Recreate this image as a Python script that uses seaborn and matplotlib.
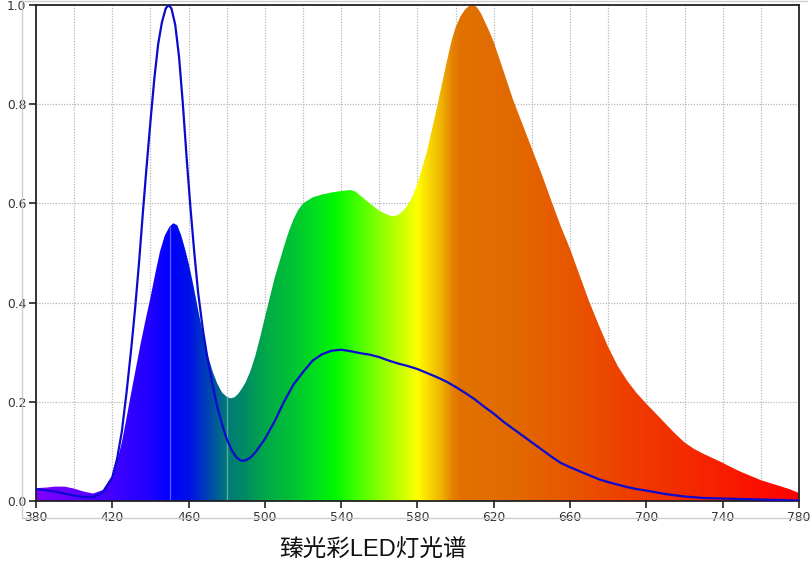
import matplotlib
matplotlib.use("Agg")

import numpy as np
import pandas as pd
import matplotlib.pyplot as plt
import seaborn as sns
from matplotlib.colors import LinearSegmentedColormap
from matplotlib.patches import Polygon
from matplotlib.lines import Line2D


# wavelength grid (nm) for the LED spectrum (filled area)
spec_wl = [380, 385, 390, 395, 400, 405, 410, 415, 420, 422.5, 425, 427.5, 430,
           432.5, 435, 437.5, 440, 442.5, 445, 447.5, 450, 452, 454, 456, 458, 460,
           462.5, 465, 467.5, 470, 472.5, 475, 477.5, 480, 482, 484, 486, 488, 490,
           492.5, 495, 497.5, 500, 505, 510, 512.5, 515, 517.5, 520, 525, 530, 535,
           540, 545, 547.5, 550, 555, 560, 565, 567.5, 570, 572.5, 575, 577.5, 580,
           585, 590, 595, 598, 600, 602.5, 605, 607, 609, 611, 613, 615, 617.5,
           620, 625, 630, 635, 640, 645, 650, 655, 660, 665, 670, 675, 680, 685,
           690, 695, 700, 705, 710, 715, 720, 725, 730, 735, 740, 745, 750, 755,
           760, 765, 770, 775, 780]
spec_val = [0.026, 0.027, 0.029, 0.029, 0.025, 0.019, 0.015, 0.022, 0.05, 0.08,
            0.118, 0.168, 0.22, 0.27, 0.32, 0.366, 0.41, 0.458, 0.503, 0.535,
            0.553, 0.56, 0.556, 0.537, 0.51, 0.48, 0.435, 0.385, 0.338, 0.295,
            0.262, 0.237, 0.219, 0.21, 0.207, 0.209, 0.216, 0.227, 0.24, 0.263,
            0.293, 0.33, 0.37, 0.448, 0.513, 0.543, 0.568, 0.587, 0.6, 0.612,
            0.618, 0.622, 0.625, 0.627, 0.624, 0.616, 0.6, 0.585, 0.576, 0.574,
            0.577, 0.585, 0.597, 0.615, 0.64, 0.705, 0.79, 0.88, 0.93, 0.955,
            0.977, 0.991, 0.998, 1.0, 0.996, 0.985, 0.969, 0.948, 0.925, 0.868,
            0.81, 0.76, 0.71, 0.66, 0.607, 0.555, 0.508, 0.455, 0.402, 0.355, 0.31,
            0.272, 0.242, 0.217, 0.196, 0.176, 0.156, 0.136, 0.118, 0.105, 0.095,
            0.086, 0.077, 0.067, 0.058, 0.05, 0.042, 0.036, 0.03, 0.024, 0.016]

# reference curve (blue line)
line_wl = [380, 385, 390, 395, 400, 405, 410, 415, 420, 422.5, 425, 427.5, 430,
           432, 434, 436, 438, 440, 442, 444, 446, 448, 449.5, 451, 453, 455, 457,
           459, 461, 463, 465, 467.5, 470, 472.5, 475, 477.5, 480, 482.5, 485,
           487.5, 490, 492.5, 495, 500, 505, 510, 515, 520, 525, 530, 535, 540,
           545, 550, 555, 560, 565, 570, 575, 580, 585, 590, 595, 600, 605, 610,
           615, 620, 625, 630, 635, 640, 645, 650, 655, 660, 665, 670, 675, 680,
           685, 690, 695, 700, 710, 720, 730, 740, 750, 760, 770, 780]
line_val = [0.024, 0.022, 0.019, 0.015, 0.011, 0.008, 0.008, 0.017, 0.048, 0.085,
            0.14, 0.22, 0.31, 0.39, 0.48, 0.58, 0.675, 0.765, 0.85, 0.92, 0.965,
            0.993, 1.0, 0.993, 0.96, 0.895, 0.8, 0.69, 0.59, 0.5, 0.42, 0.345,
            0.285, 0.235, 0.19, 0.155, 0.125, 0.103, 0.088, 0.081, 0.082, 0.088,
            0.098, 0.125, 0.16, 0.2, 0.235, 0.26, 0.283, 0.296, 0.303, 0.305,
            0.302, 0.298, 0.295, 0.29, 0.283, 0.277, 0.272, 0.266, 0.258, 0.25,
            0.241, 0.23, 0.218, 0.205, 0.19, 0.176, 0.16, 0.146, 0.132, 0.118,
            0.104, 0.09, 0.077, 0.068, 0.06, 0.052, 0.044, 0.038, 0.033, 0.028,
            0.024, 0.021, 0.014, 0.009, 0.006, 0.005, 0.004, 0.003, 0.002, 0.001]

x_ticks = [380, 420, 460, 500, 540, 580, 620, 660, 700, 740, 780]
y_ticks = [0.0, 0.2, 0.4, 0.6, 0.8, 1.0]
caption = "臻光彩LED灯光谱"

# wavelength -> colour stops for the gradient fill
color_stops = [
    (380, "#7f00ff"), (400, "#6400ff"), (420, "#4000ff"), (440, "#2000ff"),
    (450, "#0000ff"), (460, "#0010ea"), (470, "#0042b4"), (480, "#007a78"),
    (490, "#008c62"), (500, "#00a84a"), (515, "#00c434"), (525, "#00dc20"),
    (537, "#00f800"), (548, "#40ff00"), (562, "#94ff00"), (574, "#d8ff00"),
    (580, "#ffff00"), (586, "#f8d800"), (593, "#eeb000"), (598, "#e68400"),
    (602, "#e07200"), (630, "#e26a00"), (660, "#e85600"), (700, "#f03800"),
    (740, "#f81e00"), (780, "#ff0000"),
]

sns.set_theme(style="white")
plt.rcParams["font.family"] = ["DejaVu Sans"]

fig = plt.figure(figsize=(8.1, 5.69), dpi=100)
ax = fig.add_axes([36 / 810, 1 - 501 / 569, 763 / 810, 496 / 569])

ax.set_xlim(380, 780)
ax.set_ylim(0, 1.0)

# dotted grid
for xv in range(400, 780, 20):
    ax.axvline(xv, color="#b8b8b8", lw=0.9, ls=(0, (1, 1.2)), zorder=0)
for yv in [0.2, 0.4, 0.6, 0.8]:
    ax.axhline(yv, color="#b8b8b8", lw=0.9, ls=(0, (1, 1.2)), zorder=0)

# gradient fill clipped to the spectrum
lo, hi = color_stops[0][0], color_stops[-1][0]
cmap = LinearSegmentedColormap.from_list(
    "spectrum", [((w - lo) / (hi - lo), c) for w, c in color_stops], N=1024)
grad = np.linspace(0, 1, 1024).reshape(1, -1)
im = ax.imshow(grad, cmap=cmap, extent=[380, 780, 0, 1], aspect="auto",
               origin="lower", interpolation="bilinear", zorder=1)
verts = list(zip(spec_wl, spec_val)) + [(780, 0), (380, 0)]
clip = Polygon(verts, closed=True, facecolor="none", edgecolor="none",
               transform=ax.transData)
ax.add_patch(clip)
im.set_clip_path(clip)

# faint seams inside the fill
for xv in [450, 480]:
    ax.plot([xv, xv], [0, np.interp(xv, spec_wl, spec_val)], color="white",
            alpha=0.35, lw=1.0, zorder=2)

df_line = pd.DataFrame({"wl": line_wl, "val": line_val})
sns.lineplot(data=df_line, x="wl", y="val", ax=ax, color="#0a0ad0", lw=1.6,
             zorder=3)

ax.set_xlabel("")
ax.set_ylabel("")
ax.set_xticks(x_ticks)
ax.set_yticks(y_ticks)
ax.set_xticklabels([str(t) for t in x_ticks])
ax.set_yticklabels([f"{t:.1f}" for t in y_ticks])
ax.tick_params(axis="both", which="major", direction="out", length=5,
               width=1.2, color="#222222", labelsize=8.8, labelcolor="#333333",
               pad=2, bottom=True, left=True)
for side in ["left", "bottom", "top", "right"]:
    ax.spines[side].set_visible(True)
    ax.spines[side].set_color("#222222")
    ax.spines[side].set_linewidth(1.3)

# light outer frame around plot + tick labels
fx0, fx1 = 22 / 810, 807 / 810
fy0 = 1 - 518 / 569
frame_kw = dict(color="#cccccc", lw=1.0, transform=fig.transFigure)
fig.add_artist(Line2D([fx0, fx0], [fy0, 1.0], **frame_kw))
fig.add_artist(Line2D([fx0, fx1], [fy0, fy0], **frame_kw))
fig.add_artist(Line2D([fx0, fx1], [0.999, 0.999], **frame_kw))

fig.text(373 / 810, 1 - 550 / 569, caption, ha="center", va="center",
         fontsize=17, color="#111111",
         family=["Liberation Sans", "Noto Sans CJK SC"])

fig.savefig("out.png", dpi=100)
plt.close(fig)
